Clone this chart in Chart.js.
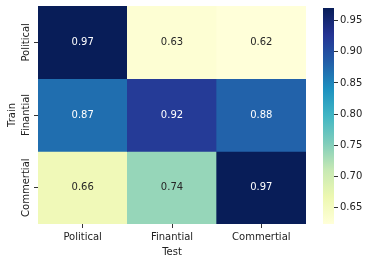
<!DOCTYPE html>
<html>
<head>
<meta charset="utf-8">
<script src="https://cdn.jsdelivr.net/npm/chart.js@4/dist/chart.umd.min.js"></script>
<style>
  html, body { margin: 0; padding: 0; background: #fff; }
  #wrap { position: relative; width: 370px; height: 262px; }
  #heat { position: absolute; left: 0; top: 0; }
  #bar { position: absolute; left: 318px; top: 0; }
</style>
</head>
<body>
<div id="wrap">
  <canvas id="heat" width="318" height="262"></canvas>
  <canvas id="bar" width="52" height="262"></canvas>
</div>
<script>
// heatmap data
const cols = ["Political", "Finantial", "Commertial"];
const rows = ["Political", "Finantial", "Commertial"];
const scores = [
  [0.97, 0.63, 0.62],
  [0.87, 0.92, 0.88],
  [0.66, 0.74, 0.97],
];
// colorbar
const cbTicks = [0.65, 0.7, 0.75, 0.8, 0.85, 0.9, 0.95];
const vmin = 0.624;
const vmax = 0.970;

// YlGnBu
const stops = ["#ffffd9", "#edf8b1", "#c7e9b4", "#7fcdbb", "#41b6c4", "#1d91c0", "#225ea8", "#253494", "#081d58"];

function hexRgb(h) {
  return [parseInt(h.slice(1, 3), 16), parseInt(h.slice(3, 5), 16), parseInt(h.slice(5, 7), 16)];
}
function cmap(v) {
  let t = (v - vmin) / (vmax - vmin);
  t = Math.max(0, Math.min(1, t));
  const p = t * (stops.length - 1);
  const i = Math.min(Math.floor(p), stops.length - 2);
  const f = p - i;
  const a = hexRgb(stops[i]), b = hexRgb(stops[i + 1]);
  return [0, 1, 2].map((k) => Math.round(a[k] + (b[k] - a[k]) * f));
}
function rgbStr(c) {
  return "rgb(" + c.join(",") + ")";
}
function lum(c) {
  const l = c.map((x) => {
    x = x / 255;
    return x <= 0.03928 ? x / 12.92 : Math.pow((x + 0.055) / 1.055, 2.4);
  });
  return 0.2126 * l[0] + 0.7152 * l[1] + 0.0722 * l[2];
}

Chart.defaults.font.family = "DejaVu Sans";
Chart.defaults.font.size = 10;
Chart.defaults.color = "#222";
Chart.defaults.animation = false;

const cellText = {
  id: "cellText",
  afterDatasetsDraw(chart) {
    const ctx = chart.ctx;
    ctx.save();
    ctx.font = "10px 'DejaVu Sans'";
    ctx.textAlign = "center";
    ctx.textBaseline = "middle";
    chart.data.datasets.forEach((ds, r) => {
      chart.getDatasetMeta(r).data.forEach((el, c) => {
        const p = el.getProps(["x", "y", "base"], true);
        const v = scores[r][c];
        ctx.fillStyle = lum(cmap(v)) > 0.408 ? "#262626" : "#ffffff";
        ctx.fillText(v.toFixed(2), p.x, (p.y + p.base) / 2);
      });
    });
    ctx.restore();
  },
};

new Chart(document.getElementById("heat"), {
  type: "bar",
  data: {
    labels: cols,
    datasets: rows.map((name, r) => ({
      label: name,
      data: cols.map(() => [r, r + 1]),
      backgroundColor: scores[r].map((v) => rgbStr(cmap(v))),
      borderWidth: 0,
      grouped: false,
      barPercentage: 1,
      categoryPercentage: 1,
    })),
  },
  options: {
    responsive: false,
    events: [],
    layout: { padding: { top: 6, right: 12, left: 0, bottom: 0 } },
    plugins: { legend: { display: false }, tooltip: { enabled: false } },
    scales: {
      x: {
        grid: { offset: false, drawOnChartArea: false, tickLength: 4, color: "#333" },
        border: { display: false },
        ticks: { padding: 3, maxRotation: 0 },
        title: { display: true, text: "Test", padding: { top: 0, bottom: 4 } },
        afterFit(s) { s.height = 38; },
      },
      y: {
        type: "linear",
        min: 0,
        max: 3,
        reverse: true,
        grid: { drawOnChartArea: false, tickLength: 4, color: "#333" },
        border: { display: false },
        afterBuildTicks(s) { s.ticks = rows.map((n, i) => ({ value: i + 0.5 })); },
        ticks: {
          minRotation: 90,
          maxRotation: 90,
          crossAlign: "center",
          padding: -22,
          callback: (v) => rows[Math.floor(v)],
        },
        title: { display: true, text: "Train", padding: { top: 6, bottom: 0 } },
        afterFit(s) { s.width = 38; },
      },
    },
  },
  plugins: [cellText],
});

new Chart(document.getElementById("bar"), {
  type: "bar",
  data: {
    labels: [""],
    datasets: [{
      data: [[vmin, vmax]],
      borderWidth: 0,
      barPercentage: 1,
      categoryPercentage: 1,
      backgroundColor(ctx) {
        const a = ctx.chart.chartArea;
        if (!a) return stops[4];
        const g = ctx.chart.ctx.createLinearGradient(0, a.bottom, 0, a.top);
        stops.forEach((s, i) => g.addColorStop(i / (stops.length - 1), s));
        return g;
      },
    }],
  },
  options: {
    responsive: false,
    events: [],
    layout: { padding: { top: 6, bottom: 38, left: 5, right: 0 } },
    plugins: { legend: { display: false }, tooltip: { enabled: false } },
    scales: {
      x: { display: false },
      y: {
        position: "right",
        min: vmin,
        max: vmax,
        grid: { drawOnChartArea: false, tickLength: 4, color: "#333" },
        border: { display: false },
        afterBuildTicks(s) { s.ticks = cbTicks.map((v) => ({ value: v })); },
        ticks: { padding: 2, callback: (v) => v.toFixed(2) },
        afterFit(s) { s.width = 36; },
      },
    },
  },
});
</script>
</body>
</html>
